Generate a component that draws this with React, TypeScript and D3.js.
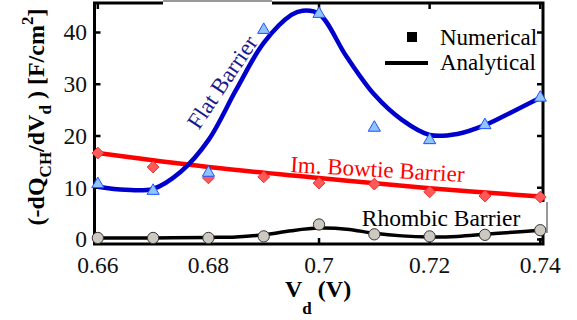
import React from "react";
import * as d3 from "d3";

// ---------- data ----------
const xNum = [0.66, 0.67, 0.68, 0.69, 0.7, 0.71, 0.72, 0.73, 0.74];
const flatNum = [10.7, 9.4, 12.9, 40.5, 43.6, 21.6, 19.2, 22.1, 27.4];
const bowtieNum = [16.7, 14.0, 11.9, 12.1, 10.9, 10.7, 9.2, 8.4, 8.2];
const rhombicNum = [0.3, 0.3, 0.3, 0.6, 2.9, 1.0, 0.6, 0.9, 1.8];

const xFlatAna = [0.66, 0.665, 0.67, 0.675, 0.68, 0.685, 0.69, 0.695, 0.697, 0.7, 0.705, 0.71, 0.715, 0.72, 0.725, 0.73, 0.735, 0.74];
const flatAna = [10.2, 9.6, 9.8, 13.1, 19.2, 28.9, 38.0, 43.4, 44.2, 43.6, 35.3, 28.0, 23.1, 20.2, 20.4, 22.1, 24.7, 27.4];
const xBowtieAna = [0.66, 0.68, 0.7, 0.72, 0.74];
const bowtieAna = [16.7, 14.0, 11.9, 9.9, 8.3];
const xRhombicAna = [0.66, 0.67, 0.68, 0.685, 0.69, 0.695, 0.7, 0.705, 0.71, 0.715, 0.72, 0.725, 0.73, 0.735, 0.74];
const rhombicAna = [0.3, 0.3, 0.4, 0.5, 0.9, 1.7, 2.2, 2.0, 1.2, 0.7, 0.5, 0.6, 1.0, 1.4, 1.8];

const xTicks = [0.66, 0.68, 0.7, 0.72, 0.74];
const xTickLabels = ["0.66", "0.68", "0.7", "0.72", "0.74"];
const yTicks = [0, 10, 20, 30, 40];
const yTickLabels = ["0", "10", "20", "30", "40"];

const W = 577;
const H = 320;
const FONT = "Liberation Serif, Tinos, Times New Roman, serif";

export default function App() {
  const x = d3.scaleLinear().domain([0.6594, 0.7405]).range([94.5, 543]);
  const y = d3.scaleLinear().domain([-0.87, 45.7]).range([244, 3]);

  const lineGen = (xs: number[], ys: number[]) =>
    d3
      .line<number>()
      .x((_, i) => x(xs[i]))
      .y((d) => y(d))
      .curve(d3.curveCatmullRom.alpha(0.5))(ys) || "";

  const tri = d3.symbol(d3.symbolTriangle, 64)() || "";
  const dia = d3.symbol(d3.symbolDiamond2, 88)() || "";
  const circ = d3.symbol(d3.symbolCircle, 100)() || "";
  const sq = d3.symbol(d3.symbolSquare, 100)() || "";

  const [x0, x1] = x.range();
  const [yb, yt] = y.range();
  const tickLen = 6;
  const tf = { fontFamily: FONT };

  return (
    <svg
      width={W}
      height={H}
      style={{ position: "absolute", left: 0, top: 0, background: "#fff", fontFamily: FONT }}
    >
      {/* frame */}
      <rect x={x0} y={yt} width={x1 - x0} height={yb - yt} fill="none" stroke="#000" strokeWidth={3} />
      {/* ticks */}
      {xTicks.map((t, i) => (
        <g key={"xt" + i}>
          <line x1={x(t)} x2={x(t)} y1={yb} y2={yb - tickLen} stroke="#000" strokeWidth={2.5} />
          <line x1={x(t)} x2={x(t)} y1={yt} y2={yt + tickLen} stroke="#000" strokeWidth={2.5} />
          <text x={x(t)} y={273} textAnchor="middle" fontSize={23.5} fill="#111" style={tf}>
            {xTickLabels[i]}
          </text>
        </g>
      ))}
      {yTicks.map((t, i) => (
        <g key={"yt" + i}>
          <line x1={x0} x2={x0 + tickLen} y1={y(t)} y2={y(t)} stroke="#000" strokeWidth={2.5} />
          <line x1={x1} x2={x1 - tickLen} y1={y(t)} y2={y(t)} stroke="#000" strokeWidth={2.5} />
          <text x={87} y={y(t)} dy="0.34em" textAnchor="end" fontSize={23.5} fill="#111" style={tf}>
            {yTickLabels[i]}
          </text>
        </g>
      ))}

      {/* white label boxes covering frame */}
      <rect x={163} y={1} width={109} height={30} fill="#fff" />
      <line x1={163} x2={272} y1={1} y2={1} stroke="#777" strokeWidth={1.5} />
      <rect x={355} y={202} width={192} height={31} fill="#fff" />
      <line x1={547} x2={547} y1={202} y2={233} stroke="#777" strokeWidth={1.5} />

      {/* analytical lines */}
      <path d={lineGen(xBowtieAna, bowtieAna)} fill="none" stroke="#ff0000" strokeWidth={4.5} />
      <path d={lineGen(xRhombicAna, rhombicAna)} fill="none" stroke="#000" strokeWidth={3.5} />
      <path d={lineGen(xFlatAna, flatAna)} fill="none" stroke="#0000cc" strokeWidth={4.5} />

      {/* numerical markers */}
      {xNum.map((v, i) => (
        <path key={"r" + i} d={circ} transform={`translate(${x(v)},${y(rhombicNum[i])})`} fill="#cdc9c1" stroke="#333" strokeWidth={1} />
      ))}
      {xNum.map((v, i) => (
        <path key={"b" + i} d={dia} transform={`translate(${x(v)},${y(bowtieNum[i])})`} fill="#ff5a5a" stroke="#e83030" strokeWidth={1} />
      ))}
      {xNum.map((v, i) => (
        <path key={"f" + i} d={tri} transform={`translate(${x(v)},${y(flatNum[i])})`} fill="#8fc4ff" stroke="#1f4fff" strokeWidth={1} />
      ))}

      {/* curve labels */}
      <text transform="translate(222,82) rotate(-56)" textAnchor="middle" dy="0.35em" fontSize={23} fill="#1a1a8c" style={tf}>
        Flat Barrier
      </text>
      <text transform="translate(377,177) rotate(3.3)" textAnchor="middle" fontSize={23} fill="#ff0000" style={tf}>
        Im. Bowtie Barrier
      </text>
      <text x={441} y={226} textAnchor="middle" fontSize={23.5} fill="#000" style={tf}>
        Rhombic Barrier
      </text>

      {/* legend */}
      <path d={sq} transform="translate(412,37)" fill="#000" />
      <line x1={385} x2={428} y1={63} y2={63} stroke="#000" strokeWidth={4} />
      <text x={440} y={45} fontSize={23} fill="#000" style={tf}>Numerical</text>
      <text x={440} y={70} fontSize={23} fill="#000" style={tf}>Analytical</text>

      {/* axis titles */}
      <text x={285} y={297} fontSize={24} fontWeight="bold" fill="#000" style={tf}>
        V<tspan fontSize={17} dy={17}>d</tspan>
        <tspan dy={-17}> (V)</tspan>
      </text>
      <text transform="translate(44,117) rotate(-90)" textAnchor="middle" fontSize={24} fontWeight="bold" fill="#000" style={tf}>
        (-dQ<tspan fontSize={17} dy={7}>CH</tspan>
        <tspan dy={-7}>/dV</tspan>
        <tspan fontSize={17} dy={7}>d</tspan>
        <tspan dy={-7}> ) [F/cm</tspan>
        <tspan fontSize={17} dy={-11}>2</tspan>
        <tspan dy={11}>]</tspan>
      </text>
    </svg>
  );
}
